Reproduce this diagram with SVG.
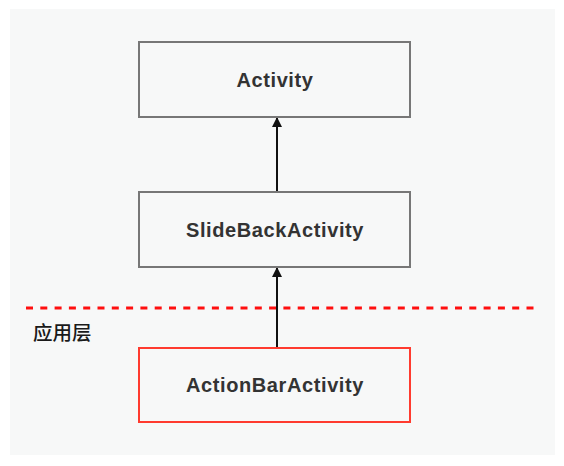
<svg xmlns="http://www.w3.org/2000/svg" width="564" height="466" viewBox="0 0 564 466">
<defs>
<style>
.box{fill:none;stroke:#777;stroke-width:2}
.red{fill:none;stroke:#ff3b2f;stroke-width:2}
.lbl{font-family:"Liberation Sans",Arial,sans-serif;font-weight:bold;font-size:20px;letter-spacing:0.6px;fill:#333;text-anchor:middle}
.conn{stroke:#111;stroke-width:2;fill:none;marker-end:url(#arr)}
</style>
<marker id="arr" viewBox="0 0 10 10" refX="10" refY="5" markerWidth="5" markerHeight="5" orient="auto" markerUnits="strokeWidth">
<path d="M0,0 L10,5 L0,10 z" fill="#111"/>
</marker>
</defs>
<rect x="0" y="0" width="564" height="466" fill="#fff"/>
<rect x="10" y="9" width="545" height="446" fill="#f7f8f8"/>
<g id="layer-line">
<line x1="26" y1="308" x2="537" y2="308" stroke="#ff0f0f" stroke-width="3" stroke-dasharray="7 7.3"/>
<text x="33" y="339.5" font-family="'Noto Sans CJK SC',sans-serif" font-size="19.5" font-weight="500" fill="#1a1a1a">应用层</text>
</g>
<g id="connectors">
<line class="conn" x1="277" y1="192" x2="277" y2="117"/>
<line class="conn" x1="277" y1="348" x2="277" y2="267"/>
</g>
<g id="activity">
<rect class="box" x="139" y="42" width="271" height="75"/>
<text class="lbl" x="275" y="87">Activity</text>
</g>
<g id="slideback">
<rect class="box" x="139" y="192" width="271" height="75"/>
<text class="lbl" x="275" y="236.5">SlideBackActivity</text>
</g>
<g id="actionbar">
<rect class="red" x="139" y="348" width="271" height="74"/>
<text class="lbl" x="275" y="392">ActionBarActivity</text>
</g>
</svg>
